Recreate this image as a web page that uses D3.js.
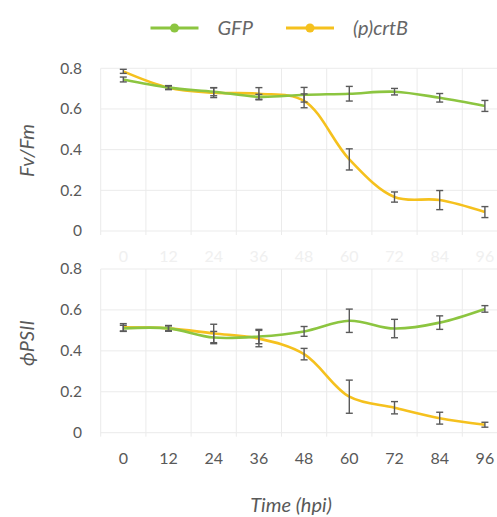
<!DOCTYPE html>
<html>
<head>
<meta charset="utf-8">
<script src="https://cdn.jsdelivr.net/npm/d3@7"></script>
<style>
  html, body { margin: 0; padding: 0; background: #fff; }
  svg { display: block; font-family: Lato, "Open Sans", sans-serif; }
</style>
</head>
<body>
<div id="chart"></div>
<script>
// ---------- data ----------
const hours = [0, 12, 24, 36, 48, 60, 72, 84, 96];
const yTicks = [0, 0.2, 0.4, 0.6, 0.8];
const seriesNames = ["GFP", "(p)crtB"];
const seriesColors = ["#8cc540", "#f5c11e"];

// Fv/Fm panel
const fvfmGFP = [0.745, 0.705, 0.685, 0.66, 0.67, 0.675, 0.685, 0.655, 0.615];
const fvfmGFPErr = [0.012, 0.01, 0.02, 0.012, 0.036, 0.036, 0.016, 0.021, 0.027];
const fvfmCrtB = [0.785, 0.705, 0.68, 0.675, 0.64, 0.352, 0.167, 0.152, 0.093];
const fvfmCrtBErr = [0.01, 0.008, 0.024, 0.03, 0.034, 0.052, 0.025, 0.047, 0.027];

// phiPSII panel
const psiiGFP = [0.51, 0.51, 0.465, 0.47, 0.495, 0.547, 0.509, 0.538, 0.605];
const psiiGFPErr = [0.015, 0.012, 0.03, 0.035, 0.024, 0.057, 0.045, 0.033, 0.016];
const psiiCrtB = [0.515, 0.51, 0.485, 0.46, 0.384, 0.176, 0.122, 0.071, 0.039];
const psiiCrtBErr = [0.018, 0.014, 0.045, 0.04, 0.028, 0.081, 0.03, 0.029, 0.012];

// ---------- layout ----------
const W = 497, H = 517;
const svg = d3.select("#chart").append("svg")
  .attr("width", W).attr("height", H);

const x = d3.scaleBand()
  .domain(hours)
  .range([100.7, 100.7 + 9 * 45.2])
  .padding(0);
const xc = h => x(h) + x.bandwidth() / 2;

const gridColor = "#ebebeb";
const tickColor = "#595959";
const errColor = "#5a5a5a";

const line = d3.line().curve(d3.curveCatmullRom.alpha(0.5));

function panel(top, bottom, title, titleY, data, xLabelColor, xLabelY) {
  const y = d3.scaleLinear().domain([0, 0.8]).range([bottom, top]);
  const g = svg.append("g");

  // horizontal grid
  g.append("g").selectAll("line").data(yTicks).join("line")
    .attr("x1", x.range()[0]).attr("x2", W)
    .attr("y1", d => y(d)).attr("y2", d => y(d))
    .attr("stroke", gridColor).attr("stroke-width", 1);

  // vertical grid at band edges
  g.append("g").selectAll("line").data(hours).join("line")
    .attr("x1", d => x(d)).attr("x2", d => x(d))
    .attr("y1", top).attr("y2", bottom + 4)
    .attr("stroke", gridColor).attr("stroke-width", 1);

  // y tick labels
  g.append("g").selectAll("text").data(yTicks).join("text")
    .attr("x", 82).attr("y", d => y(d)).attr("dy", "0.35em")
    .attr("text-anchor", "end")
    .attr("fill", tickColor).attr("font-size", 15.5)
    .text(d => d === 0 ? "0" : d3.format(".1f")(d));

  // x tick labels
  g.append("g").selectAll("text").data(hours).join("text")
    .attr("x", d => xc(d)).attr("y", xLabelY).attr("dy", "0.35em")
    .attr("text-anchor", "middle")
    .attr("fill", xLabelColor).attr("font-size", 16)
    .text(d => d);

  // y title
  g.append("text")
    .attr("transform", `translate(27,${titleY}) rotate(-90)`)
    .attr("text-anchor", "middle").attr("dy", "0.35em")
    .attr("fill", tickColor).attr("font-size", 20).attr("font-style", "italic")
    .text(title);

  // lines: crtB underneath GFP
  [1, 0].forEach(i => {
    const vals = data[i].v;
    g.append("path")
      .attr("d", line(hours.map((h, k) => [xc(h), y(vals[k])])))
      .attr("fill", "none")
      .attr("stroke", seriesColors[i])
      .attr("stroke-width", 2.6);
  });

  // error bars
  data.forEach(s => {
    const eg = g.append("g").attr("stroke", errColor).attr("stroke-width", 1.4);
    hours.forEach((h, k) => {
      const cx = xc(h), lo = y(s.v[k] - s.e[k]), hi = y(s.v[k] + s.e[k]);
      eg.append("line").attr("x1", cx).attr("x2", cx).attr("y1", lo).attr("y2", hi);
      eg.append("line").attr("x1", cx - 3.5).attr("x2", cx + 3.5).attr("y1", lo).attr("y2", lo);
      eg.append("line").attr("x1", cx - 3.5).attr("x2", cx + 3.5).attr("y1", hi).attr("y2", hi);
    });
  });
}

panel(68.3, 231, "Fv/Fm", 150.5,
  [{ v: fvfmGFP, e: fvfmGFPErr }, { v: fvfmCrtB, e: fvfmCrtBErr }],
  "#f0f0f0", 256.5);

panel(269, 432.7, "\u03D5PSII", 343,
  [{ v: psiiGFP, e: psiiGFPErr }, { v: psiiCrtB, e: psiiCrtBErr }],
  tickColor, 458.5);

// x title
svg.append("text")
  .attr("x", 291).attr("y", 505).attr("dy", "0.35em")
  .attr("text-anchor", "middle")
  .attr("fill", tickColor).attr("font-size", 20).attr("font-style", "italic")
  .text("Time (hpi)");

// ---------- legend ----------
const legendX = [150.5, 286];
const leg = svg.append("g").selectAll("g").data(seriesNames).join("g")
  .attr("transform", (d, i) => `translate(${legendX[i]},28)`);
leg.append("line")
  .attr("x1", 0).attr("x2", 48)
  .attr("stroke", (d, i) => seriesColors[i]).attr("stroke-width", 2.8);
leg.append("circle")
  .attr("cx", 24).attr("r", 4.5)
  .attr("fill", (d, i) => seriesColors[i]);
leg.append("text")
  .attr("x", 67).attr("dy", "0.35em")
  .attr("fill", "#666").attr("font-size", 20).attr("font-style", "italic")
  .text(d => d);
</script>
</body>
</html>
